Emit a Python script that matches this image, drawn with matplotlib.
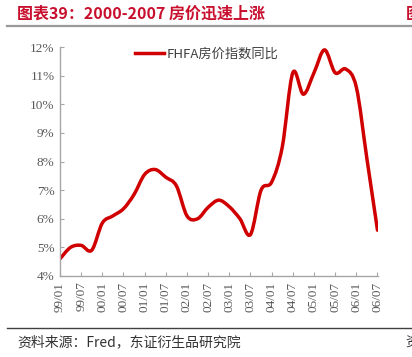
import numpy as np
import matplotlib.pyplot as plt
from matplotlib.path import Path
from matplotlib.patches import PathPatch
from matplotlib.lines import Line2D

plt.rcParams['font.family'] = ['Noto Sans CJK SC', 'DejaVu Sans']

# FHFA house price index, y/y %, quarterly from 1999Q1
yoy = [4.6, 5.0, 5.07, 4.9, 5.85, 6.1, 6.35, 6.85, 7.55, 7.72, 7.45, 7.15,
       6.1, 6.0, 6.4, 6.65, 6.42, 6.0, 5.45, 7.0, 7.28, 8.5, 11.1, 10.35,
       11.1, 11.9, 11.1, 11.23, 10.6, 8.1, 5.6]
tick_labels = ['99/01', '99/07', '00/01', '00/07', '01/01', '01/07', '02/01', '02/07',
               '03/01', '03/07', '04/01', '04/07', '05/01', '05/07', '06/01', '06/07']
series_name = 'FHFA房价指数同比'

red = '#d00000'
grey_txt = '#595959'
serif = ['Liberation Serif', 'DejaVu Serif']


def smooth_path(xs, ys):
    # catmull-rom style bezier through the points (like excel smoothed line)
    pts = np.column_stack([xs, ys])
    verts = [pts[0]]
    codes = [Path.MOVETO]
    n = len(pts)
    for i in range(n - 1):
        p0 = pts[max(i - 1, 0)]
        p1 = pts[i]
        p2 = pts[i + 1]
        p3 = pts[min(i + 2, n - 1)]
        c1 = p1 + (p2 - p0) / 6
        c2 = p2 - (p3 - p1) / 6
        verts += [c1, c2, p2]
        codes += [Path.CURVE4] * 3
    return Path(verts, codes)


fig = plt.figure(figsize=(4.12, 3.57), dpi=100)
ax = fig.add_axes([0.1456, 0.2269, 0.7719, 0.6414])

x = np.arange(len(yoy))
ax.add_patch(PathPatch(smooth_path(x, yoy), fill=False, edgecolor=red, lw=2.5,
                       capstyle='round', joinstyle='round'))
ax.plot(x, yoy, alpha=0)

ax.set_xlim(0, 30.05)
ax.set_ylim(4, 12)
ax.set_yticks(range(4, 13))
ax.set_yticklabels([f'{v}%' for v in range(4, 13)], fontfamily=serif, fontsize=9.5,
                   color=grey_txt)
ax.set_xticks(np.arange(0, 31, 2))
ax.set_xticklabels(tick_labels, rotation=90, fontfamily=serif, fontsize=9.5,
                   color=grey_txt)

for s in ['top', 'right']:
    ax.spines[s].set_visible(False)
for s in ['left', 'bottom']:
    ax.spines[s].set_color('#a6a6a6')
    ax.spines[s].set_linewidth(1.0)
ax.tick_params(direction='in', length=3, color='#a6a6a6', pad=4)

leg = ax.legend([Line2D([0], [0], color=red, lw=2.5)], [series_name],
                loc='upper left', bbox_to_anchor=(0.2, 1.05), frameon=False,
                handlelength=2.2, handletextpad=0.15,
                prop={'family': ['Noto Sans CJK SC', 'DejaVu Sans'], 'size': 9.5})
for t in leg.get_texts():
    t.set_color('#404040')

# header and footer
fig.text(17 / 412, 1 - 14 / 357, '图表39：2000-2007 房价迅速上涨', color='#c8102e',
         fontsize=11.5, va='center', ha='left', fontweight='bold')
fig.text(406 / 412, 1 - 14 / 357, '图', color='#c8102e', fontsize=11.5, va='center',
         ha='left', fontweight='bold')
fig.add_artist(Line2D([7 / 412, 1], [1 - 25.5 / 357] * 2, color='#9a9a9a', lw=1.6))
fig.add_artist(Line2D([7 / 412, 1], [1 - 328 / 357] * 2, color='#404040', lw=1.0))
fig.text(17 / 412, 1 - 342 / 357, '资料来源：Fred，东证衍生品研究院', color='#333333',
         fontsize=10, va='center', ha='left')
fig.text(405 / 412, 1 - 342 / 357, '资', color='#333333', fontsize=10, va='center',
         ha='left')

fig.savefig('out.png', dpi=100)
